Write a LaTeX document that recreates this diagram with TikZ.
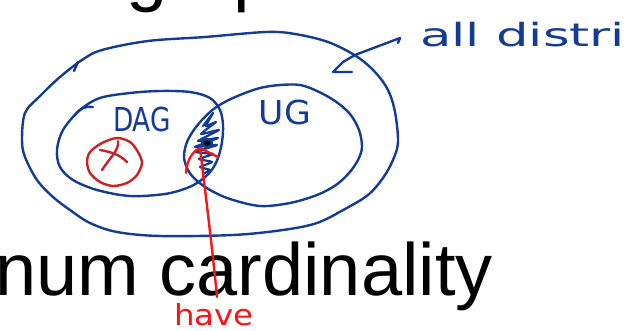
\documentclass[tikz,border=0pt]{standalone}
\usepackage{fontspec}
\usepackage{graphicx}
\setmainfont{Liberation Sans}
\newfontfamily\hand{DejaVu Sans}
\definecolor{pen}{RGB}{20,60,150}
\definecolor{penred}{RGB}{250,20,20}
\definecolor{circred}{RGB}{200,35,35}
\tikzset{
  pen/.style={draw=pen, line width=2.4pt, line cap=round, line join=round},
  redpen/.style={draw=penred, line width=2.4pt, line cap=round, line join=round},
  circpen/.style={draw=circred, line width=2.4pt, line cap=round, line join=round},
  scribble/.style={draw=pen, line width=2.2pt, line cap=round, line join=round},
  slide/.style={anchor=base west, inner sep=0pt, font=\fontsize{74}{80}\selectfont},
  handtxt/.style={inner sep=0pt, font=\hand}
}
\begin{document}
\begin{tikzpicture}[x=1pt,y=-1pt]
\useasboundingbox (0,0) rectangle (641,331);
\fill[white] (0,0) rectangle (641,331);
\clip (0,0) rectangle (641,331);

% slide text
\node[slide] (title) at (126,-2.5) {graph};
\node[slide] (bottomtext) at (-5,296) {num cardinality};

% outer set: all distributions
\draw[pen] plot[smooth cycle, tension=0.55] coordinates {
 (82,60) (102,50) (148,41) (205,37) (266,32) (295,34) (328,42) (356,56)
 (375,72) (388,90) (395,112) (398,142) (393,160) (383,178) (368,195)
 (345,209) (317,223) (283,230) (233,235) (160,236) (117,232) (90,223)
 (70,210) (53,197) (37,180) (25,157) (22,140) (25,113) (40,96) (60,77)};
\draw[pen] (74,71) -- (78,62);

% DAG set
\draw[pen] plot[smooth cycle, tension=0.55] coordinates {
 (100,98) (130,93) (160,91) (190,92) (210,98) (220,110) (223,125)
 (222,142) (218,158) (211,171) (200,181) (187,188) (165,194) (130,196)
 (97,190) (73,180) (60,167) (57,150) (63,130) (80,110)};
\draw[pen] (75,115) .. controls (80,108) and (86,106) .. (93,107);

% UG set
\draw[pen] plot[smooth cycle, tension=0.55] coordinates {
 (240,95) (260,88) (280,85) (300,85) (317,91) (335,101) (350,114)
 (359,130) (362,147) (358,160) (349,173) (336,185) (317,195) (290,203)
 (260,206) (230,199) (210,190) (196,180) (188,170) (184,157) (187,142)
 (196,127) (210,112) (223,103)};

% scribble in intersection
\draw[scribble] plot[smooth, tension=0.3] coordinates {
 (203,126) (213,113) (206,126) (216,122) (201,134) (219,130) (198,141)
 (218,138) (195,147) (217,145) (196,152) (213,154) (199,159) (212,162)
 (200,167) (210,170) (203,174)};
\fill[pen] (207,143) ellipse (5pt and 4pt);

% labels
\node[handtxt, text=pen] (dag) at (142,119.5) {\scalebox{0.8}[1]{\fontsize{33}{36}\selectfont DAG}};
\node[handtxt, text=pen] (ug) at (285,112) {\scalebox{1.05}[1]{\fontsize{33}{36}\selectfont UG}};
\node[handtxt, text=pen, anchor=base west] (alld) at (420,47) {\scalebox{1.6}[1]{\fontsize{32}{36}\selectfont all distri}};
\node[handtxt, text=penred, anchor=base west] (have) at (174,326) {\scalebox{1.12}[1]{\fontsize{29}{32}\selectfont have}};

% crossed circle
\draw[circpen] plot[smooth cycle, tension=0.5] coordinates {
 (102,143) (117,138) (130,142) (138,152) (142,163) (137,175) (127,183)
 (113,186) (100,182) (90,173) (87,162) (90,152)};
\draw[circpen] (100,150) .. controls (112,152) and (120,155) .. (127,162);
\draw[circpen] (118,141) .. controls (119,150) and (112,155) .. (102,170);

% blue arrow to outer set
\coordinate (aStart) at (400,38);
\coordinate (aTip) at (333,72);
\draw[pen] (398,43) -- (aStart) -- (355,55) -- (343,62) -- (aTip) -- (352,72);

% red arrow to intersection
\coordinate (rStart) at (217,297);
\coordinate (rTip) at (200,148);
\draw[redpen] (rStart) .. controls (212,245) and (205,190) .. (rTip);
\draw[redpen] (rTip) .. controls (192,152) and (187,160) .. (186,173);
\draw[redpen] (rTip) -- (218,157);
\end{tikzpicture}
\end{document}
